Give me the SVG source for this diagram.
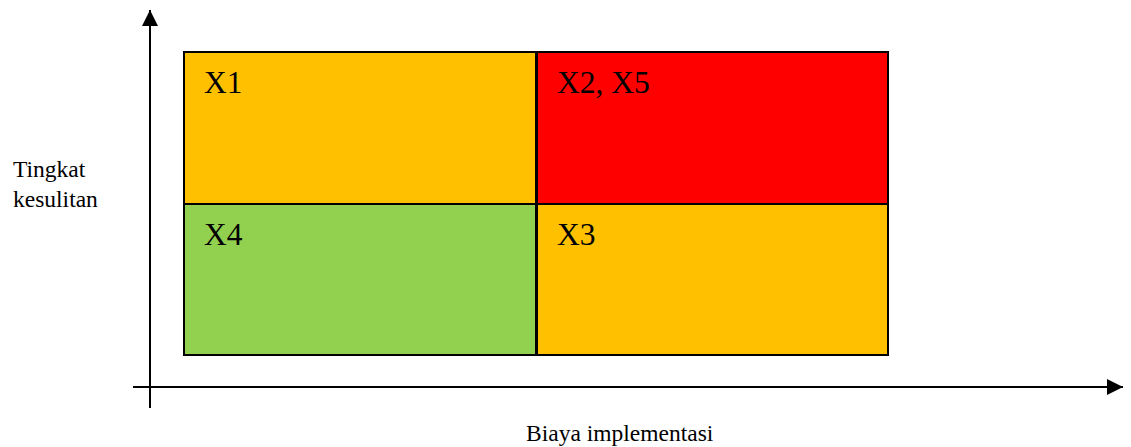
<svg xmlns="http://www.w3.org/2000/svg" width="1131" height="447" viewBox="0 0 1131 447">
<style>
.cell{stroke:#000;stroke-width:2}
.lbl{font-family:"Liberation Serif",serif;font-size:31.5px;fill:#000}
.ax{font-family:"Liberation Serif",serif;font-size:23.5px;fill:#000}
.axis{stroke:#000;stroke-width:2;fill:none}
</style>
<defs>
<marker id="ah" markerUnits="userSpaceOnUse" markerWidth="18" markerHeight="18" refX="16" refY="8" orient="auto">
<path d="M0,0 L16,8 L0,16 Z" fill="#000"/>
</marker>
</defs>
<rect width="1131" height="447" fill="#fff"/>
<g id="connectors">
<line class="axis" x1="150" y1="408" x2="150" y2="10" marker-end="url(#ah)"/>
<line class="axis" x1="133" y1="387" x2="1123" y2="387" marker-end="url(#ah)"/>
</g>
<g id="q-x1"><rect class="cell" x="184" y="52" width="352" height="152" fill="#FFC000"/><text class="lbl" x="204" y="92.5">X1</text></g>
<g id="q-x2x5"><rect class="cell" x="537" y="52" width="351" height="152" fill="#FF0000"/><text class="lbl" x="557" y="92.5">X2, X5</text></g>
<g id="q-x4"><rect class="cell" x="184" y="204" width="352" height="151" fill="#92D050"/><text class="lbl" x="204" y="245">X4</text></g>
<g id="q-x3"><rect class="cell" x="537" y="204" width="351" height="151" fill="#FFC000"/><text class="lbl" x="557" y="245">X3</text></g>
<g id="y-label"><text class="ax" x="13" y="177">Tingkat</text><text class="ax" x="13" y="207">kesulitan</text></g>
<g id="x-label"><text class="ax" x="526" y="441">Biaya implementasi</text></g>
</svg>
